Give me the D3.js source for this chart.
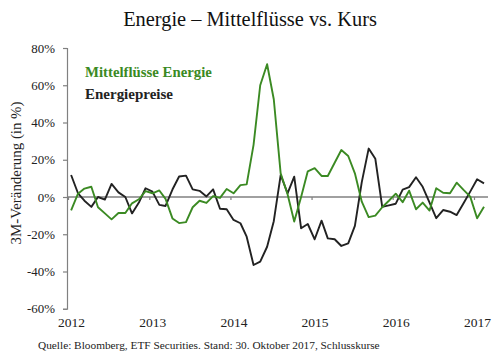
<!DOCTYPE html>
<html><head><meta charset="utf-8">
<script src="https://cdn.jsdelivr.net/npm/d3@7"></script>
<style>body{margin:0;background:#fff}svg{display:block}</style>
</head><body>
<svg id="c" width="500" height="355"></svg>
<script>
// ---- data ----
const months = ["2012-01","2012-02","2012-03","2012-04","2012-05","2012-06","2012-07","2012-08","2012-09","2012-10","2012-11","2012-12",
"2013-01","2013-02","2013-03","2013-04","2013-05","2013-06","2013-07","2013-08","2013-09","2013-10","2013-11","2013-12",
"2014-01","2014-02","2014-03","2014-04","2014-05","2014-06","2014-07","2014-08","2014-09","2014-10","2014-11","2014-12",
"2015-01","2015-02","2015-03","2015-04","2015-05","2015-06","2015-07","2015-08","2015-09","2015-10","2015-11","2015-12",
"2016-01","2016-02","2016-03","2016-04","2016-05","2016-06","2016-07","2016-08","2016-09","2016-10","2016-11","2016-12",
"2017-01","2017-02"];
const flows = [-7.2,1.8,4.5,5.5,-5.5,-8.8,-12,-8.6,-8.6,-3.4,-1.2,3.2,
2,3.5,-1,-11.5,-14,-13.5,-5.5,-2,-3.2,0.5,-0.5,4.3,
2,6.4,6.8,28,60,71.3,52.5,12.7,1.5,-13.2,0,13.8,
15.5,11.3,11.3,18.4,25.2,22,12.7,-2.5,-10.8,-10,-5.5,-2,
1.8,-2.8,3.4,-6.6,-3,-7.3,4.7,2.3,2,7.7,3.8,0.2,
-11.4,-5.2];
const prices = [11.8,2,-2,-5.3,0,-1.4,7,2.5,0,-8.8,-3,4.7,
2.9,-4.2,-4.8,4,11,11.5,4.1,3.3,0.3,4.1,-6.3,-6.6,
-12.3,-14.1,-21.3,-36.5,-34.7,-26.7,-13,11.8,2,10.9,-16.8,-14.5,
-22.7,-12.7,-22.2,-22.7,-26.3,-24.9,-15.5,8,26,20.5,-5.3,-4.5,
-3.6,4,5.3,10.6,5.5,-3,-11.4,-7,-7.9,-9.7,-3.4,2.9,
9.5,7.3];
const yTicks = [80,60,40,20,0,-20,-40,-60];
const xYears = [2012,2013,2014,2015,2016,2017];
const seriesNames = ["Mittelflüsse Energie","Energiepreise"];
const titleText = "Energie \u2013 Mittelflüsse vs. Kurs";
const yLabel = "3M-Veränderung (in %)";
const caption = "Quelle: Bloomberg, ETF Securities. Stand: 30. Oktober 2017, Schlusskurse";

// ---- chart ----
const GREEN = "#3b8a23", BLACK = "#222", GRAY = "#808080";
const FONT = "'Liberation Serif', 'Times New Roman', serif";
const svg = d3.select("#c");
const parse = d3.timeParse("%Y-%m-%d");
const dates = months.map(m => parse(m + "-15"));

const x = d3.scaleTime().domain([new Date(2012,0,1), new Date(2017,0,1)]).range([68, 474]);
const y = d3.scaleLinear().domain([-60, 80]).range([308.75, 48]);

function fit(sel, w) {
  const n = sel.node(); const L = n.getComputedTextLength();
  const fs = parseFloat(sel.attr("font-size"));
  sel.attr("font-size", fs * w / L);
  return fs * w / L;
}

// title
const t = svg.append("text").attr("x", 250).attr("y", 26).attr("text-anchor", "middle")
  .attr("font-family", FONT).attr("font-size", 20).attr("fill", "#111").text(titleText);
fit(t, 254);

// y axis
const yAxis = svg.append("g").attr("transform", "translate(67,0)")
  .call(d3.axisLeft(y).tickValues(yTicks).tickSize(4).tickPadding(8).tickFormat(d => d + "%"));
yAxis.select(".domain").attr("stroke", GRAY).attr("stroke-width", 1.2);
yAxis.selectAll(".tick line").attr("stroke", GRAY).attr("stroke-width", 1.2);
const yt = yAxis.selectAll(".tick text").attr("font-family", FONT).attr("font-size", 13).attr("fill", "#222");
const ytFs = fit(yt.filter(d => d === -60), 28);
yt.attr("font-size", ytFs);

// zero line with year ticks
const xAxis = svg.append("g").attr("transform", `translate(0,${y(0)})`)
  .call(d3.axisBottom(x).tickValues(xYears.map(yr => new Date(yr,0,1))).tickSize(3).tickFormat(""));
xAxis.select(".domain").remove();
xAxis.selectAll(".tick line").attr("stroke", GRAY).attr("stroke-width", 1.2);
svg.append("line").attr("x1", 67).attr("x2", 488).attr("y1", y(0)).attr("y2", y(0))
  .attr("stroke", GRAY).attr("stroke-width", 1.5);

// year labels at bottom
const xLab = svg.append("g").attr("transform", "translate(0,327)")
  .call(d3.axisBottom(x).tickValues(xYears.map(yr => new Date(yr,0,1))).tickSize(0).tickPadding(0).tickFormat(d3.timeFormat("%Y")));
xLab.select(".domain").remove();
const xt = xLab.selectAll(".tick text").attr("font-family", FONT).attr("font-size", 13).attr("fill", "#222")
  .attr("dy", 0).attr("dx", 3);
const xtFs = fit(xt.filter((d, i) => i === 0), 27);
xt.attr("font-size", xtFs);

// y label
const yl = svg.append("text").attr("transform", "translate(21,173) rotate(-90)").attr("text-anchor", "middle")
  .attr("font-family", FONT).attr("font-size", 13).attr("fill", "#222").text(yLabel);
fit(yl, 143);

// lines
const line = d3.line().x((d, i) => x(dates[i])).y(d => y(d));
svg.append("path").datum(prices).attr("d", line).attr("fill", "none").attr("stroke", BLACK)
  .attr("stroke-width", 1.9).attr("stroke-linejoin", "round");
svg.append("path").datum(flows).attr("d", line).attr("fill", "none").attr("stroke", GREEN)
  .attr("stroke-width", 1.9).attr("stroke-linejoin", "round");

// legend
const l1 = svg.append("text").attr("x", 85).attr("y", 77).attr("font-family", FONT).attr("font-weight", "bold")
  .attr("font-size", 13).attr("fill", GREEN).text(seriesNames[0]);
fit(l1, 127);
const l2 = svg.append("text").attr("x", 85).attr("y", 99).attr("font-family", FONT).attr("font-weight", "bold")
  .attr("font-size", 13).attr("fill", BLACK).text(seriesNames[1]);
fit(l2, 88);

// caption
const cp = svg.append("text").attr("x", 38).attr("y", 349).attr("font-family", FONT)
  .attr("font-size", 12).attr("fill", "#222").text(caption);
fit(cp, 342);
</script>
</body></html>
